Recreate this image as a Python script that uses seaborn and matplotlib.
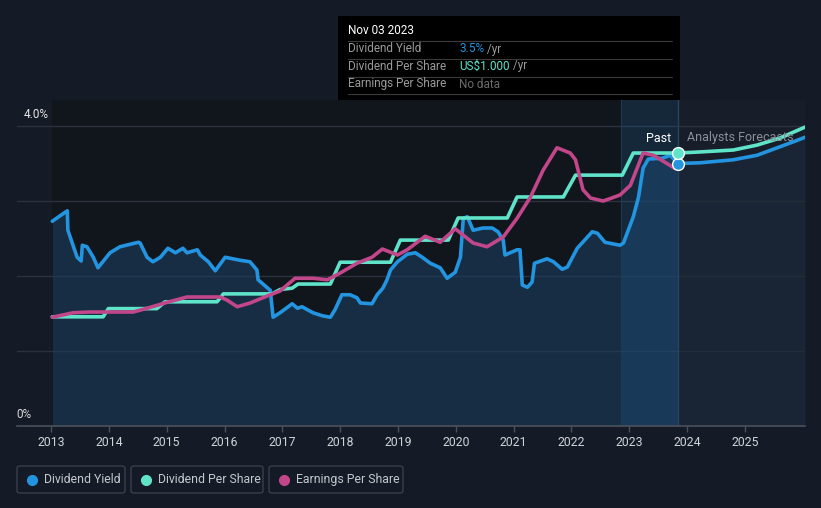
import numpy as np
import pandas as pd
import matplotlib
matplotlib.use("Agg")
import matplotlib.pyplot as plt
from matplotlib.patches import Rectangle, FancyBboxPatch
from matplotlib.lines import Line2D
import seaborn as sns

# ---------------- data ----------------
yield_t = [2013.02, 2013.28, 2013.29, 2013.45, 2013.52, 2013.54, 2013.62, 2013.73, 2013.81, 2014.02,
           2014.19, 2014.51, 2014.54, 2014.66, 2014.76, 2014.89, 2015.02, 2015.15, 2015.28, 2015.35,
           2015.53, 2015.58, 2015.72, 2015.84, 2016.01, 2016.27, 2016.44, 2016.56, 2016.58, 2016.79,
           2016.84, 2016.96, 2017.17, 2017.26, 2017.34, 2017.53, 2017.69, 2017.83, 2017.91, 2018.03,
           2018.17, 2018.29, 2018.35, 2018.55, 2018.64, 2018.74, 2018.81, 2018.87, 2018.99, 2019.16,
           2019.30, 2019.42, 2019.56, 2019.73, 2019.85, 2019.99, 2020.08, 2020.13, 2020.20, 2020.30,
           2020.47, 2020.63, 2020.73, 2020.82, 2020.85, 2021.06, 2021.11, 2021.15, 2021.24, 2021.32,
           2021.36, 2021.58, 2021.69, 2021.84, 2021.93, 2022.10, 2022.36, 2022.45, 2022.58, 2022.84,
           2022.90, 2023.07, 2023.16, 2023.24, 2023.33, 2023.57, 2023.71, 2023.84]
yield_v = [2.73, 2.87, 2.61, 2.25, 2.20, 2.41, 2.39, 2.25, 2.11, 2.31,
           2.39, 2.45, 2.44, 2.25, 2.19, 2.25, 2.37, 2.31, 2.37, 2.31,
           2.35, 2.28, 2.19, 2.07, 2.25, 2.21, 2.19, 2.08, 1.95, 1.81,
           1.45, 1.51, 1.63, 1.57, 1.59, 1.51, 1.47, 1.45, 1.55, 1.75,
           1.75, 1.71, 1.64, 1.63, 1.75, 1.84, 1.95, 2.08, 2.19, 2.29,
           2.31, 2.25, 2.17, 2.11, 1.97, 2.05, 2.25, 2.77, 2.79, 2.61,
           2.64, 2.64, 2.59, 2.48, 2.28, 2.35, 2.35, 1.88, 1.85, 1.92,
           2.17, 2.23, 2.19, 2.09, 2.12, 2.37, 2.59, 2.57, 2.45, 2.41,
           2.44, 2.79, 3.05, 3.44, 3.56, 3.57, 3.61, 3.50]

yield_fc_t = [2023.84, 2024.23, 2024.80, 2025.21, 2025.56, 2025.84, 2026.04]
yield_fc_v = [3.50, 3.51, 3.55, 3.61, 3.71, 3.79, 3.85]

dps_t = [2013.02, 2013.90, 2013.99, 2014.83, 2014.97, 2015.87, 2015.98, 2016.82, 2016.96, 2017.17,
         2017.27, 2017.83, 2018.00, 2018.87, 2019.04, 2019.87, 2020.04, 2020.89, 2021.06, 2021.86,
         2022.07, 2022.88, 2023.07, 2023.84]
dps_v = [0.400, 0.400, 0.430, 0.430, 0.455, 0.455, 0.484, 0.484, 0.500, 0.505,
         0.520, 0.520, 0.600, 0.600, 0.681, 0.681, 0.762, 0.762, 0.839, 0.839,
         0.919, 0.919, 1.000, 1.000]

dps_fc_t = [2023.84, 2024.23, 2024.80, 2025.21, 2025.61, 2026.04]
dps_fc_v = [1.000, 1.004, 1.011, 1.029, 1.055, 1.095]

eps_t = [2013.02, 2013.38, 2013.67, 2013.97, 2014.42, 2014.66, 2015.01, 2015.35, 2015.92, 2016.04,
         2016.22, 2016.44, 2016.79, 2016.96, 2017.22, 2017.53, 2017.78, 2018.00, 2018.29, 2018.55,
         2018.73, 2018.99, 2019.16, 2019.47, 2019.73, 2019.99, 2020.30, 2020.54, 2020.82, 2021.06,
         2021.29, 2021.51, 2021.75, 2021.98, 2022.07, 2022.20, 2022.33, 2022.55, 2022.84, 2023.02,
         2023.24, 2023.42, 2023.80]
eps_v = [1.45, 1.51, 1.52, 1.52, 1.52, 1.57, 1.65, 1.72, 1.72, 1.68,
         1.59, 1.64, 1.75, 1.80, 1.97, 1.97, 1.95, 2.04, 2.17, 2.25,
         2.36, 2.28, 2.35, 2.53, 2.45, 2.63, 2.44, 2.39, 2.52, 2.77,
         3.05, 3.41, 3.71, 3.64, 3.55, 3.15, 3.04, 3.00, 3.08, 3.21,
         3.64, 3.61, 3.43]

year_ticks = list(range(2013, 2026))
legend_labels = ["Dividend Yield", "Dividend Per Share", "Earnings Per Share"]

# ---------------- style ----------------
BG = "#151b26"
PAST_BG = "#11151c"
FC_BG = "#171e2a"
BLUE = "#2394df"
TEAL = "#5fe3c9"
MAGENTA = "#c2468a"
GRID = "#2c323c"

sns.set_theme(style="dark")
plt.rcParams["font.family"] = ["Roboto", "DejaVu Sans"]

W, H = 821, 508
fig = plt.figure(figsize=(W / 100, H / 100), dpi=100, facecolor=BG)

def fx(x):
    return x / W

def fy(y):
    return 1 - y / H

AX_L, AX_R, AX_T, AX_B = 17, 805, 100, 426
ax = fig.add_axes([fx(AX_L), fy(AX_B), (AX_R - AX_L) / W, (AX_B - AX_T) / H])
ax.set_facecolor(PAST_BG)

XMIN, XMAX = 2012.41, 2026.04
YMAX = 4.347
NOW = 2023.84
PAST_START = 2022.85

ax.set_xlim(XMIN, XMAX)
ax.set_ylim(0, YMAX)

# background regions
ax.axvspan(XMIN, yield_t[0], color=BG, zorder=0, lw=0)
ax.axvspan(NOW, XMAX, color=FC_BG, zorder=0, lw=0)

# grid lines
for g in [1, 2, 3, 4]:
    ax.axhline(g, color=GRID, lw=1, zorder=1)

# fills under dividend yield
ax.fill_between(yield_t, 0, yield_v, color="#1c3d5e", alpha=0.62, lw=0, zorder=1.5)
ax.fill_between(yield_fc_t, 0, yield_fc_v, color="#1b2a3b", alpha=0.6, lw=0, zorder=1.5)
# past highlight band
ax.axvspan(PAST_START, NOW, color="#1d5a8a", alpha=0.28, lw=0, zorder=1.6)
ax.axvline(PAST_START, color="#1f3a55", lw=0.8, zorder=1.7)
ax.axvline(NOW, color="#2a4360", lw=1, zorder=1.7)

LW = 2.6
df_y = pd.DataFrame({"year": yield_t, "value": yield_v})
df_yf = pd.DataFrame({"year": yield_fc_t, "value": yield_fc_v})
sns.lineplot(data=df_y, x="year", y="value", ax=ax, color=BLUE, lw=LW,
             sort=False, estimator=None, zorder=3, solid_joinstyle="round", solid_capstyle="round")
sns.lineplot(data=df_yf, x="year", y="value", ax=ax, color=BLUE, lw=LW,
             sort=False, estimator=None, zorder=3, solid_joinstyle="round")

# DPS on its own hidden axis
ax2 = ax.twinx()
ax2.set_ylim(0, YMAX * 75 / 273)
df_d = pd.DataFrame({"year": dps_t, "value": dps_v})
df_df = pd.DataFrame({"year": dps_fc_t, "value": dps_fc_v})
sns.lineplot(data=df_d, x="year", y="value", ax=ax2, color=TEAL, lw=LW,
             sort=False, estimator=None, zorder=3, solid_joinstyle="round", solid_capstyle="round")
sns.lineplot(data=df_df, x="year", y="value", ax=ax2, color=TEAL, lw=LW,
             sort=False, estimator=None, zorder=3, solid_joinstyle="round")

# EPS on its own hidden axis
ax3 = ax.twinx()
ax3.set_ylim(0, YMAX)
df_e = pd.DataFrame({"year": eps_t, "value": eps_v})
sns.lineplot(data=df_e, x="year", y="value", ax=ax3, color=MAGENTA, lw=LW,
             sort=False, estimator=None, zorder=3, solid_joinstyle="round", solid_capstyle="round")

# end-point dots
ax3.plot([NOW], [yield_fc_v[0]], "o", ms=8.5, color=BLUE, mec="white", mew=1, zorder=6, clip_on=False)
ax3.plot([NOW], [dps_fc_v[0] * 273 / 75], "o", ms=8.5, color=TEAL, mec="white", mew=1, zorder=6, clip_on=False)

for a in (ax, ax2, ax3):
    a.set_xlim(XMIN, XMAX)
    a.set_xlabel("")
    a.set_ylabel("")
    for s in a.spines.values():
        s.set_visible(False)
    a.grid(False)
for a in (ax2, ax3):
    a.set_yticks([])
    a.patch.set_visible(False)
    a.tick_params(axis="y", right=False, left=False, labelright=False, labelleft=False)

ax.set_yticks([])
ax.spines["bottom"].set_visible(True)
ax.spines["bottom"].set_color("#4b515c")
ax.spines["bottom"].set_linewidth(1.2)
ax.set_xticks(year_ticks)
ax.set_xticklabels([str(y) for y in year_ticks])
ax.tick_params(axis="x", colors="#4b515c", length=4, width=1, direction="out",
               labelcolor="#d0d3d8", labelsize=8.8, pad=3, bottom=True, labelbottom=True)

# y labels
fig.text(fx(24), fy(114), "4.0%", color="#e6e6e6", fontsize=8.5, va="center", ha="left")
fig.text(fx(16), fy(414), "0%", color="#d8d8d8", fontsize=8.5, va="center", ha="left")

# Past / Analysts Forecasts
fig.text(fx(671), fy(138), "Past", color="#ffffff", fontsize=9, va="center", ha="right", zorder=12)
fig.text(fx(687), fy(138), "Analysts Forecasts", color="#8b9099", fontsize=9, va="center", ha="left", zorder=12)

# tooltip
fig.patches.append(Rectangle((fx(338), fy(100)), (680 - 338) / W, 84 / H,
                             transform=fig.transFigure, facecolor="#000000",
                             edgecolor="none", zorder=10))
for yy in [41, 59, 77, 94]:
    fig.lines.append(Line2D([fx(348), fx(672)], [fy(yy), fy(yy)], transform=fig.transFigure,
                            color="#3a3a3a", lw=0.8, zorder=11))
fig.text(fx(348), fy(31), "Nov 03 2023", color="#ffffff", fontsize=8.5, va="center", zorder=12)
rows = [("Dividend Yield", "3.5%", BLUE, " /yr", 49),
        ("Dividend Per Share", "US$1.000", TEAL, " /yr", 66),
        ("Earnings Per Share", "No data", "#6b6b6b", "", 84)]
for lab, val, col, suf, yy in rows:
    fig.text(fx(348), fy(yy), lab, color="#9a9a9a", fontsize=8.5, va="center", zorder=12)
    t = fig.text(fx(459), fy(yy), val, color=col, fontsize=8.5, va="center", zorder=12)
    if suf:
        fig.canvas.draw()
        bb = t.get_window_extent()
        fig.text(bb.x1 / W, fy(yy), suf, color="#9a9a9a", fontsize=8.5, va="center", zorder=12)

# legend boxes
boxes = [(17, 125), (131, 263), (269, 403)]
cols = [BLUE, TEAL, MAGENTA]
for (x0, x1), lab, col in zip(boxes, legend_labels, cols):
    fig.patches.append(FancyBboxPatch((fx(x0), fy(493)), (x1 - x0) / W, 27 / H,
                                      boxstyle="round,pad=0,rounding_size=0.004",
                                      transform=fig.transFigure, facecolor="none",
                                      edgecolor="#3a404b", lw=1, zorder=10))
    fig.lines.append(Line2D([fx(x0 + 15)], [fy(479.5)], transform=fig.transFigure,
                            marker="o", ms=7, color=col, lw=0, zorder=11))
    fig.text(fx(x0 + 27), fy(479.5), lab, color="#c4c8ce", fontsize=8.8, va="center", zorder=11)

fig.savefig("out.png", dpi=100, facecolor=BG)
